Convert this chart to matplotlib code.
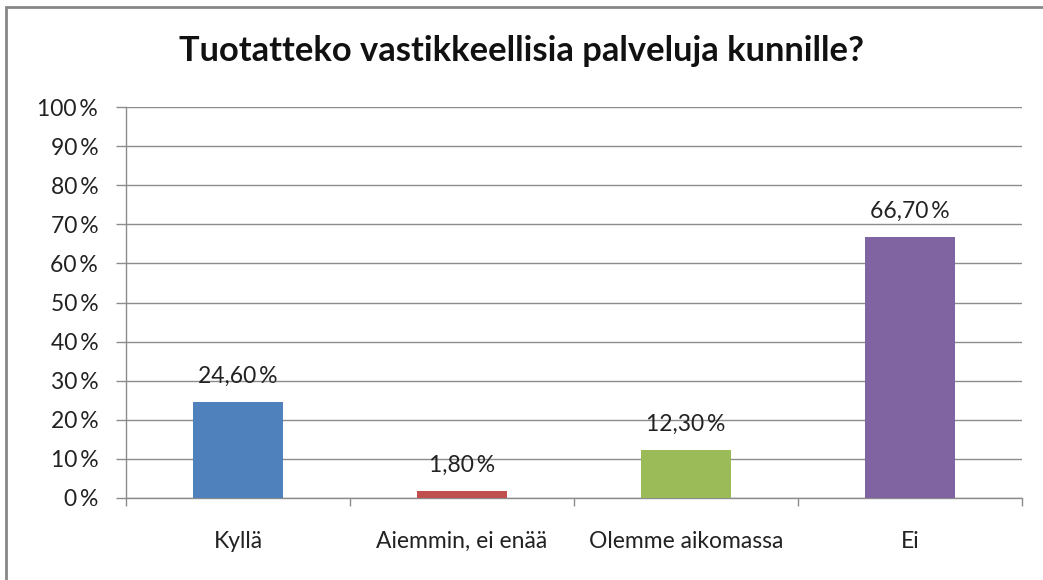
import matplotlib
matplotlib.use("Agg")
import matplotlib.pyplot as plt
from matplotlib.patches import Rectangle
from matplotlib.ticker import FixedLocator, NullFormatter

categories = ["Kyllä", "Aiemmin, ei enää", "Olemme aikomassa", "Ei"]
values = [24.6, 1.8, 12.3, 66.7]
colors = ["#4F81BD", "#C0504D", "#9BBB59", "#8064A2"]
yticks = list(range(0, 101, 10))
title = "Tuotatteko vastikkeellisia palveluja kunnille?"

plt.rcParams['font.family'] = ['Lato', 'DejaVu Sans']
FS = 16.5
TXT = "#222222"

W, H = 1043, 580
fig = plt.figure(figsize=(W / 100, H / 100), dpi=100)
fig.patch.set_facecolor("white")

# outer border
fig.patches.append(Rectangle((6 / W, -0.05), 1.2, 1 - 7 / H + 0.05, transform=fig.transFigure,
                             fill=False, edgecolor="#878787", linewidth=2))

ax = fig.add_axes([126 / W, 1 - 498 / H, (1022 - 126) / W, (498 - 107) / H])
x = list(range(len(categories)))
bars = ax.bar(x, values, width=0.4, color=colors, zorder=3)
ax.set_xlim(-0.5, len(categories) - 0.5)
ax.set_ylim(0, 100)
ax.set_yticks(yticks)
ax.set_yticklabels([f"{t}\u2009%" for t in yticks], fontsize=FS, color=TXT)
ax.yaxis.grid(True, color="#8c8c8c", linewidth=1.0, zorder=0)
ax.set_axisbelow(True)

ax.set_xticks(x)
ax.set_xticklabels(categories, fontsize=FS, color=TXT)
ax.tick_params(axis="x", length=0, pad=24)
ax.xaxis.set_minor_locator(FixedLocator([i - 0.5 for i in range(len(categories) + 1)]))
ax.xaxis.set_minor_formatter(NullFormatter())
ax.tick_params(axis="x", which="minor", length=6, color="#8c8c8c", width=1.0)
ax.tick_params(axis="y", length=7, color="#8c8c8c", width=1.0, pad=13)

for s in ["top", "right"]:
    ax.spines[s].set_visible(False)
for s in ["left", "bottom"]:
    ax.spines[s].set_color("#8c8c8c")
    ax.spines[s].set_linewidth(1.0)

for b, v in zip(bars, values):
    ax.annotate(f"{v:.2f}\u2009%".replace(".", ","), (b.get_x() + b.get_width() / 2, v),
                xytext=(0, 11), textcoords="offset points", ha="center", va="bottom",
                fontsize=FS, color=TXT)

fig.text(0.5, 1 - 51 / H, title, ha="center", va="center", fontsize=24.8, fontweight="bold", color="#111111")

fig.savefig("out.png", dpi=100)
